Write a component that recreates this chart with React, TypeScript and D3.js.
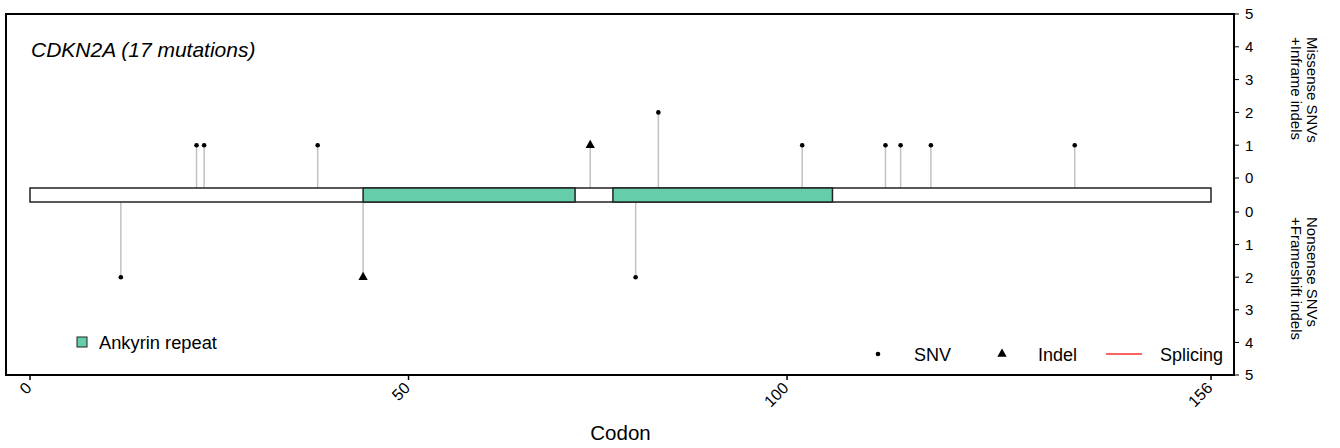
import React, { useRef, useEffect } from 'react';
import * as d3 from 'd3';

const GENE = 'CDKN2A';
const PROTEIN_LENGTH = 156;

const DOMAIN_LABEL = 'Ankyrin repeat';
const DOMAIN_STARTS = [44, 77];
const DOMAIN_ENDS = [72, 106];

// one entry per lollipop
const MUT_CODONS = [22, 23, 38, 74, 83, 102, 113, 115, 119, 138, 12, 44, 80];
const MUT_COUNTS = [1, 1, 1, 1, 2, 1, 1, 1, 1, 1, 2, 2, 2];
const MUT_TYPES = ['SNV', 'SNV', 'SNV', 'Indel', 'SNV', 'SNV', 'SNV', 'SNV', 'SNV', 'SNV', 'SNV', 'Indel', 'SNV'];
const MUT_SIDES = ['up', 'up', 'up', 'up', 'up', 'up', 'up', 'up', 'up', 'up', 'down', 'down', 'down'];

const X_TICKS = [0, 50, 100, 156];
const Y_TICKS = [0, 1, 2, 3, 4, 5];

const LEGEND_TYPES = ['SNV', 'Indel', 'Splicing'];

const width = 1340;
const height = 448;
const boxLeft = 6;
const boxRight = 1234;
const boxTop = 14;
const boxBottom = 375;
const barTop = 188;
const barBottom = 202;
const font = '"Liberation Sans", Arial, sans-serif';
const green = '#66CDAA';
const stemColor = '#c2c2c2';

const x = d3.scaleLinear().domain([0, PROTEIN_LENGTH]).range([30, 1211]);
const yUp = d3.scaleLinear().domain([0, 5]).range([178, boxTop]);
const yDown = d3.scaleLinear().domain([0, 5]).range([212, boxBottom]);

const triangle = d3.symbol(d3.symbolTriangle, 38);

function drawChart(node: SVGGElement) {
  const g = d3.select(node);
  g.selectAll('*').remove();

  // frame
  g.append('rect')
    .attr('x', boxLeft).attr('y', boxTop)
    .attr('width', boxRight - boxLeft).attr('height', boxBottom - boxTop)
    .attr('fill', 'none').attr('stroke', '#000').attr('stroke-width', 2);

  g.append('text')
    .attr('x', 31).attr('y', 57)
    .attr('font-family', font).attr('font-size', 21).attr('font-style', 'italic')
    .text(`${GENE} (${d3.sum(MUT_COUNTS)} mutations)`);

  const muts = MUT_CODONS.map((c, i) => ({
    codon: c, count: MUT_COUNTS[i], type: MUT_TYPES[i], side: MUT_SIDES[i],
  }));

  // stems
  g.append('g').selectAll('line')
    .data(muts)
    .join('line')
    .attr('x1', d => x(d.codon)).attr('x2', d => x(d.codon))
    .attr('y1', d => d.side === 'up' ? barTop : barBottom)
    .attr('y2', d => d.side === 'up' ? yUp(d.count) : yDown(d.count))
    .attr('stroke', stemColor).attr('stroke-width', 1.5);

  // protein bar + domains
  g.append('rect')
    .attr('x', x(0)).attr('y', barTop)
    .attr('width', x(PROTEIN_LENGTH) - x(0)).attr('height', barBottom - barTop)
    .attr('fill', '#fff').attr('stroke', '#222').attr('stroke-width', 1.5);

  g.append('g').selectAll('rect')
    .data(DOMAIN_STARTS)
    .join('rect')
    .attr('x', d => x(d)).attr('y', barTop)
    .attr('width', (d, i) => x(DOMAIN_ENDS[i]) - x(d)).attr('height', barBottom - barTop)
    .attr('fill', green).attr('stroke', '#222').attr('stroke-width', 1.5);

  // heads
  const heads = g.append('g');
  heads.selectAll('circle')
    .data(muts.filter(d => d.type === 'SNV'))
    .join('circle')
    .attr('cx', d => x(d.codon))
    .attr('cy', d => d.side === 'up' ? yUp(d.count) : yDown(d.count))
    .attr('r', 2.3).attr('fill', '#000');
  heads.selectAll('path')
    .data(muts.filter(d => d.type === 'Indel'))
    .join('path')
    .attr('d', triangle())
    .attr('transform', d => `translate(${x(d.codon)},${d.side === 'up' ? yUp(d.count) : yDown(d.count)})`)
    .attr('fill', '#000');

  // right axes
  const right = g.append('g').attr('font-family', font);
  right.append('line')
    .attr('x1', boxRight).attr('x2', boxRight)
    .attr('y1', boxTop).attr('y2', boxBottom)
    .attr('stroke', '#000').attr('stroke-width', 1.5);
  [yUp, yDown].forEach(s => {
    right.append('g').selectAll('line')
      .data(Y_TICKS).join('line')
      .attr('x1', boxRight).attr('x2', boxRight + 5)
      .attr('y1', d => s(d)).attr('y2', d => s(d))
      .attr('stroke', '#000').attr('stroke-width', 1);
    right.append('g').selectAll('text')
      .data(Y_TICKS).join('text')
      .attr('x', boxRight + 11).attr('y', d => s(d))
      .attr('dy', '0.36em').attr('font-size', 15)
      .text(d => d);
  });

  const yTitles = [
    { y: 37, lines: ['Missense SNVs', '+Inframe indels'] },
    { y: 217, lines: ['Nonsense SNVs', '+Frameshift indels'] },
  ];
  yTitles.forEach(t => {
    t.lines.forEach((line, i) => {
      const bx = 1307 - i * 16.5;
      right.append('text')
        .attr('transform', `translate(${bx},${t.y}) rotate(90)`)
        .attr('font-size', 15)
        .text(line);
    });
  });

  // bottom axis
  const bottom = g.append('g').attr('font-family', font);
  bottom.selectAll('line')
    .data(X_TICKS).join('line')
    .attr('x1', d => x(d)).attr('x2', d => x(d))
    .attr('y1', boxBottom).attr('y2', boxBottom + 5)
    .attr('stroke', '#000').attr('stroke-width', 1.5);
  bottom.selectAll('text')
    .data(X_TICKS).join('text')
    .attr('transform', d => `translate(${x(d) - 1.5},${boxBottom + 10}) rotate(-45)`)
    .attr('text-anchor', 'end').attr('dy', '0.36em')
    .attr('font-size', 16)
    .text(d => d);
  bottom.append('text')
    .attr('x', (x(0) + x(PROTEIN_LENGTH)) / 2).attr('y', 440)
    .attr('text-anchor', 'middle').attr('font-size', 20.5)
    .text('Codon');

  // legends
  const legend = g.append('g').attr('font-family', font).attr('font-size', 18);
  legend.append('rect')
    .attr('x', 77).attr('y', 337).attr('width', 10).attr('height', 10)
    .attr('fill', green).attr('stroke', '#222').attr('stroke-width', 1);
  legend.append('text').attr('x', 99).attr('y', 349).attr('font-size', 18.3).text(DOMAIN_LABEL);

  const legendX = [878, 1002, 1106];
  const legendY = 354;
  LEGEND_TYPES.forEach((t, i) => {
    const lx = legendX[i];
    if (t === 'SNV') {
      legend.append('circle').attr('cx', lx).attr('cy', legendY).attr('r', 2.3).attr('fill', '#000');
    } else if (t === 'Indel') {
      legend.append('path').attr('d', triangle()).attr('transform', `translate(${lx},${legendY})`).attr('fill', '#000');
    } else {
      legend.append('line')
        .attr('x1', lx).attr('x2', lx + 36).attr('y1', legendY).attr('y2', legendY)
        .attr('stroke', '#ff3030').attr('stroke-width', 1.5);
    }
    const tx = t === 'Splicing' ? lx + 54 : lx + 36;
    legend.append('text').attr('x', tx).attr('y', legendY + 7).text(t);
  });
}

const App = () => {
  const ref = useRef<SVGGElement>(null);
  useEffect(() => {
    if (ref.current) drawChart(ref.current);
  }, [ref]);

  return (
    <svg width={width} height={height} style={{ position: 'absolute', left: 0, top: 0, background: '#fff' }}>
      <g ref={ref}></g>
    </svg>
  );
};

export default App;
